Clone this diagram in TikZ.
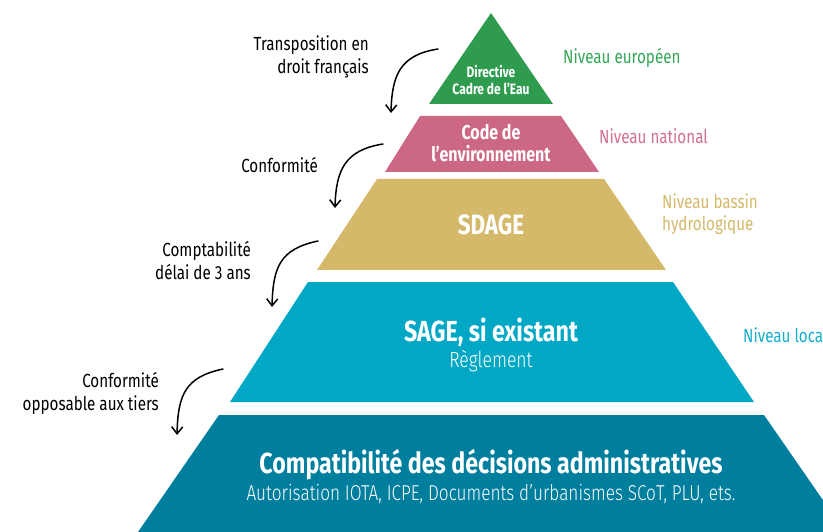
\documentclass[tikz,border=0pt]{standalone}
\usepackage{fontspec}
\setmainfont{Fira Sans}[FakeStretch=0.8]
\newfontfamily\lightfont{Fira Sans Light}[FakeStretch=0.8]
\usetikzlibrary{arrows.meta}
\definecolor{euGreen}{HTML}{2E9B4F}
\definecolor{natPink}{HTML}{CD6884}
\definecolor{basTan}{HTML}{D4B96A}
\definecolor{locCyan}{HTML}{00A8C6}
\definecolor{admTeal}{HTML}{007E9E}
\definecolor{euText}{HTML}{34A656}
\definecolor{natText}{HTML}{D1708C}
\definecolor{basText}{HTML}{D4B96A}
\definecolor{locText}{HTML}{16AECB}
\begin{document}
\begin{tikzpicture}[x=1pt,y=-1pt,
  title/.style={text=white,align=center,inner sep=0pt},
  sub/.style={text=white,align=center,inner sep=0pt},
  relation/.style={text=black,align=right,anchor=east,inner sep=0pt,font=\fontsize{19}{23}\selectfont},
  level/.style={align=left,anchor=west,inner sep=0pt,font=\fontsize{19}{22}\selectfont},
  flow/.style={line width=1.5pt,line cap=round,-{Straight Barb[length=7pt,width=11pt,line width=1.5pt]}}]
\useasboundingbox (0,0) rectangle (823,532);

% pyramid layers, top to bottom
\fill[euGreen] (491,13) -- (553,104) -- (429,104) -- cycle;
\fill[natPink] (420,116) -- (561,116) -- (599,172) -- (385,172) -- cycle;
\fill[basTan] (377,179) -- (604,179) -- (666,270) -- (317,270) -- cycle;
\fill[locCyan] (308,282) -- (673,282) -- (754,402) -- (230,402) -- cycle;
\fill[admTeal] (219,415) -- (764,415) -- (845,532) -- (138,532) -- cycle;

% layer titles
\node[title,font=\bfseries\fontsize{15}{17}\selectfont] (dce) at (491,80) {Directive\\Cadre de l’Eau};
\node[title,font=\bfseries\fontsize{20}{22}\selectfont] (code) at (491,143) {Code de\\l’environnement};
\node[title,font=\bfseries\fontsize{28}{30}\selectfont] (sdage) at (491,225) {SDAGE};
\node[title,font=\bfseries\fontsize{29}{30}\selectfont] (sage) at (491,332) {SAGE, si existant};
\node[sub,font=\lightfont\fontsize{22}{24}\selectfont] (reg) at (491,361) {Règlement};
\node[title,font=\bfseries\fontsize{29}{30}\selectfont] (adm) at (491,465) {Compatibilité des décisions administratives};
\node[sub,font=\lightfont\fontsize{21.5}{24}\selectfont] (admsub) at (491,494) {Autorisation IOTA, ICPE, Documents d’urbanismes SCoT, PLU, ets.};

% level labels on the right
\node[level,text=euText] (lvEU) at (563,58) {Niveau européen};
\node[level,text=natText] (lvNat) at (599,136) {Niveau national};
\node[level,text=basText] (lvBas) at (662,214) {Niveau bassin\\hydrologique};
\node[level,text=locText] (lvLoc) at (743,335) {Niveau local};

% legal relations on the left
\node[relation] (r1) at (369,57) {Transposition en\\droit français};
\node[relation] (r2) at (318,165) {Conformité};
\node[relation] (r3) at (251,261) {Comptabilité\\délai de 3 ans};
\node[relation] (r4) at (159,393) {Conformité\\opposable aux tiers};

% curved arrows
\coordinate (a1s) at (438,49);  \coordinate (a1e) at (391,113);
\coordinate (a2s) at (383,144); \coordinate (a2e) at (335,208);
\coordinate (a3s) at (318,241); \coordinate (a3e) at (272,307);
\coordinate (a4s) at (223,369); \coordinate (a4e) at (177,435);
\draw[flow] (a1s) .. controls +(-38,6) and +(1,-38) .. (a1e);
\draw[flow] (a2s) .. controls +(-38,6) and +(1,-38) .. (a2e);
\draw[flow] (a3s) .. controls +(-38,8) and +(1,-40) .. (a3e);
\draw[flow] (a4s) .. controls +(-38,8) and +(1,-40) .. (a4e);
\end{tikzpicture}
\end{document}
